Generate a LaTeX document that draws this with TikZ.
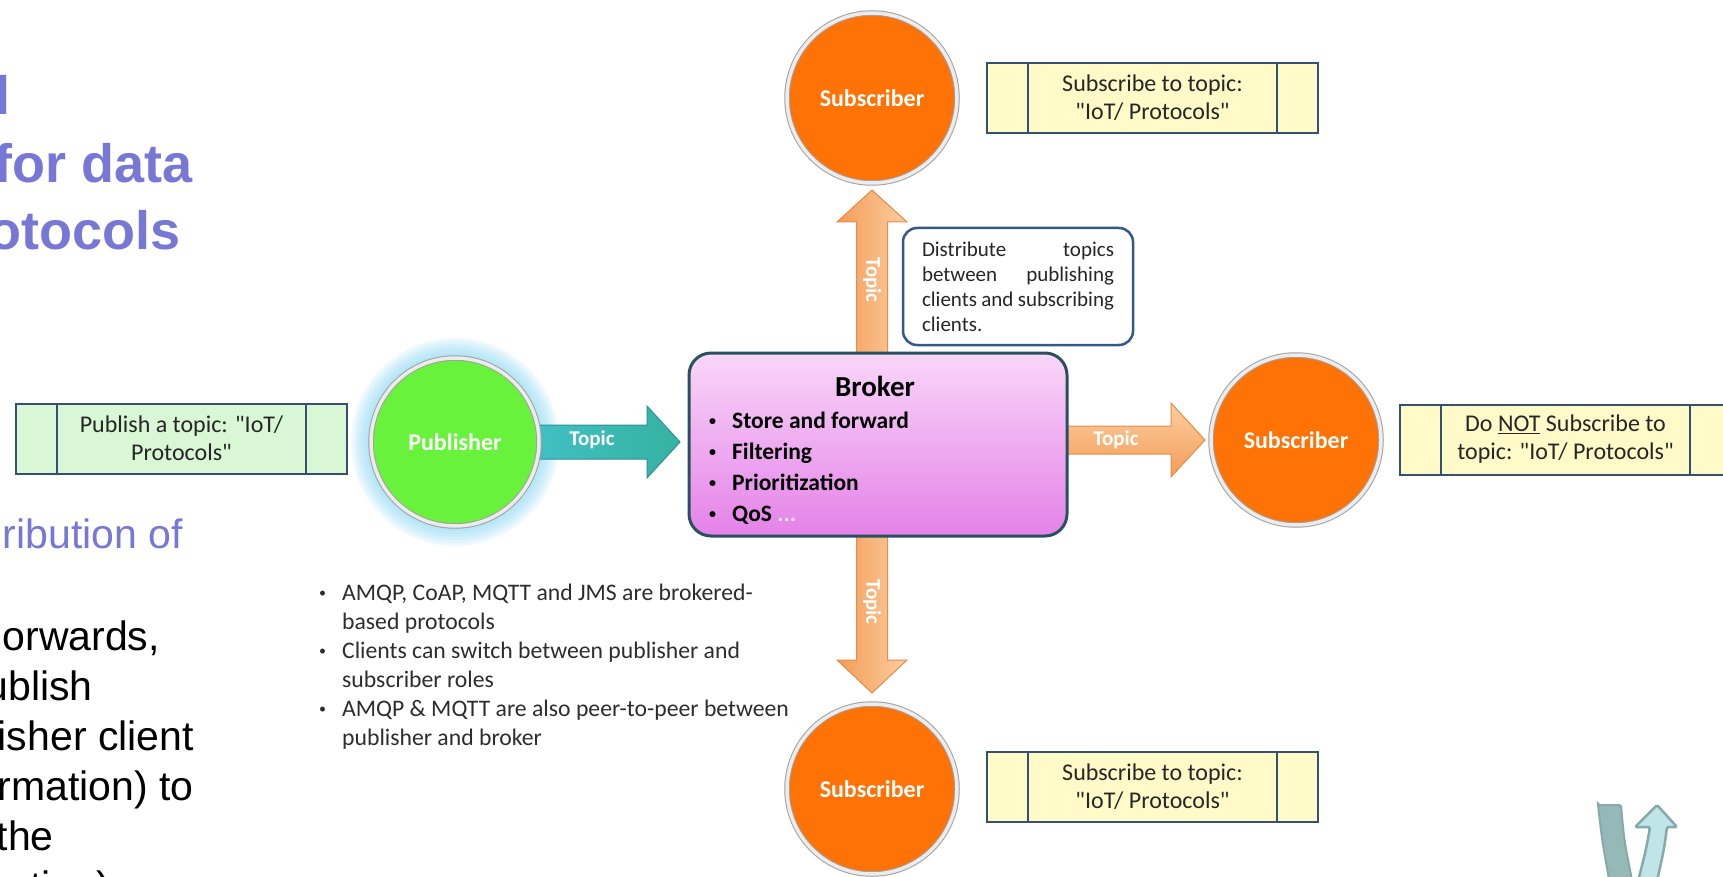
\documentclass[tikz,border=0pt]{standalone}
\usepackage{fontspec}
\setmainfont{Carlito}
\newfontfamily\slidefont{Liberation Sans}
\usetikzlibrary{calc}
\pgfdeclarelayer{background}
\pgfsetlayers{background,main}

\definecolor{titleblue}{RGB}{119,119,214}
\definecolor{pubgreen}{RGB}{104,242,60}
\definecolor{suborange}{RGB}{255,114,6}
\definecolor{glowblue}{RGB}{130,215,245}
\definecolor{ringdark}{RGB}{160,160,160}
\definecolor{ringlight}{RGB}{236,236,236}
\definecolor{tabgreen}{RGB}{217,247,212}
\definecolor{tabyellow}{RGB}{255,250,200}
\definecolor{tabedge}{RGB}{52,80,115}
\definecolor{brokeredge}{RGB}{40,80,95}
\definecolor{brokertop}{RGB}{249,214,249}
\definecolor{brokerbot}{RGB}{228,130,232}
\definecolor{dotpink}{RGB}{248,228,248}
\definecolor{noteedge}{RGB}{52,88,138}
\definecolor{listgray}{RGB}{45,45,45}
\definecolor{orangemain}{RGB}{243,156,88}
\definecolor{orangelight}{RGB}{252,206,160}
\definecolor{orangeedge}{RGB}{228,140,72}
\definecolor{tealA}{RGB}{70,200,215}
\definecolor{tealB}{RGB}{54,178,160}
\definecolor{tealedge}{RGB}{45,143,160}
\definecolor{iconbar}{RGB}{149,184,184}
\definecolor{iconarrow}{RGB}{191,229,232}
\definecolor{iconedge}{RGB}{137,168,170}

% straight double quote and a small list bullet
\newcommand\qt{\textquotedbl}
\newcommand\dotmark{\raisebox{2.2pt}{\fontsize{14}{14}\selectfont\textbullet}}

% block arrow: style, from, tip, shaft half width, head half width, head length
\newcommand\blockarrow[6]{%
  \coordinate (ba-h) at ($(#3)!#6!(#2)$);
  \path[#1] ($(#2)!#4!90:(#3)$) -- ($(ba-h)!#4!-90:(#2)$) -- ($(ba-h)!#5!-90:(#2)$)
    -- (#3) -- ($(ba-h)!#5!90:(#2)$) -- ($(ba-h)!#4!90:(#2)$) -- ($(#2)!#4!-90:(#3)$) -- cycle;
}

\begin{document}
\begin{tikzpicture}[x=1pt,y=-1pt,
  slidetitle/.style={anchor=base east, inner sep=0pt, text=titleblue, font=\slidefont\bfseries\fontsize{54}{60}\selectfont},
  slidesub/.style={anchor=base east, inner sep=0pt, text=titleblue, font=\slidefont\fontsize{41}{50}\selectfont},
  slidebody/.style={anchor=base east, inner sep=0pt, text=black, font=\slidefont\fontsize{41}{50}\selectfont},
  rolecircle/.style={circle, minimum size=170pt, inner sep=0pt, outer sep=0pt, draw=ringdark, line width=1pt, double=ringlight, double distance=3.5pt, text=white, font=\bfseries\fontsize{24}{28}\selectfont},
  pubnode/.style={rolecircle, fill=pubgreen, minimum size=168pt},
  subnode/.style={rolecircle, fill=suborange},
  brokerbox/.style={rectangle, rounded corners=22pt, minimum width=378pt, minimum height=183pt, outer sep=0pt, draw=brokeredge, line width=3pt, top color=brokertop, bottom color=brokerbot},
  notebox/.style={rectangle, rounded corners=14pt, minimum width=230pt, minimum height=117pt, draw=noteedge, line width=2.5pt, fill=white, inner sep=0pt, font=\fontsize{21}{25}\selectfont, text=black!85},
  tabbox/.style={rectangle, draw=tabedge, line width=2pt, minimum width=331pt, minimum height=70pt, inner sep=0pt, align=center, font=\fontsize{24}{28}\selectfont, text=black!85,
    path picture={\draw[tabedge, line width=2pt]
      ([xshift=41pt]path picture bounding box.north west) -- ([xshift=41pt]path picture bounding box.south west)
      ([xshift=-41pt]path picture bounding box.north east) -- ([xshift=-41pt]path picture bounding box.south east);}},
  topiclabel/.style={text=white, inner sep=0pt, font=\bfseries\fontsize{21}{24}\selectfont},
  orangeH/.style={top color=orangelight, bottom color=orangemain, draw=orangeedge, line width=1pt},
  orangeV/.style={left color=orangemain, right color=orangelight, draw=orangeedge, line width=1pt},
  tealarrow/.style={left color=tealA, right color=tealB, draw=tealedge, line width=1pt}
]
\useasboundingbox (0,0) rectangle (1723,877);
\clip (0,0) rectangle (1723,877);

% slide text on the left
\node[slidetitle] (t1) at (11,115) {l};
\node[slidetitle] (t2) at (193,183) {for data};
\node[slidetitle] (t3) at (181,250) {otocols};
\node[slidesub] (s1) at (183,548) {ribution of};
\node[slidebody] (b1) at (160,650) {orwards,};
\node[slidebody] (b2) at (93,700) {ublish};
\node[slidebody] (b3) at (194,750) {isher client};
\node[slidebody] (b4) at (194,800) {rmation) to};
\node[slidebody] (b5) at (54,850) {the};
\node[slidebody] (b6) at (110,900) {ation)};

% clients and broker
\node[pubnode] (pub) at (455,442) {Publisher};
\node[subnode] (stop) at (872,98) {Subscriber};
\node[subnode] (sright) at (1296,440) {Subscriber};
\node[subnode] (sbot) at (872,789) {Subscriber};
\node[brokerbox] (broker) at (878,444.5) {};
\node[font=\bfseries\fontsize{29}{34}\selectfont] (brokertitle) at (875,386) {Broker};
\node[anchor=base west, inner sep=0pt, font=\bfseries\fontsize{23.5}{31}\selectfont] (brokerlist) at (709,428)
  {\begin{tabular}[t]{@{}l@{\hspace{16pt}}l@{}}
   \dotmark & Store and forward\\
   \dotmark & Filtering\\
   \dotmark & Prioritization\\
   \dotmark & QoS \textcolor{dotpink}{...}
   \end{tabular}};

% topic notes
\node[tabbox, fill=tabgreen] (pubnote) at (181.5,438.5) {Publish a topic: \qt IoT/\\Protocols\qt};
\node[tabbox, fill=tabyellow] (topnote) at (1152.5,98) {Subscribe to topic:\\\qt IoT/ Protocols\qt};
\node[tabbox, fill=tabyellow] (rightnote) at (1565.5,439.5) {Do \underline{NOT} Subscribe to\\topic: \qt IoT/ Protocols\qt};
\node[tabbox, fill=tabyellow] (botnote) at (1152.5,787) {Subscribe to topic:\\\qt IoT/ Protocols\qt};

\node[notebox] (distrib) at (1018,286.5) {\parbox{192pt}{%
  \makebox[192pt][s]{Distribute topics}\\
  \makebox[192pt][s]{between publishing}\\
  \makebox[192pt][s]{clients and subscribing}\\
  clients.}};

\node[anchor=base west, inner sep=0pt, text=listgray, font=\fontsize{23.7}{29}\selectfont] (roles) at (319,600)
  {\begin{tabular}[t]{@{}l@{\hspace{16pt}}l@{}}
   \dotmark & AMQP, CoAP, MQTT and JMS are brokered-\\
   & based protocols\\
   \dotmark & Clients can switch between publisher and\\
   & subscriber roles\\
   \dotmark & AMQP \& MQTT are also peer-to-peer between\\
   & publisher and broker
   \end{tabular}};

% arrow end points
\coordinate (pubtip) at ($(pub.center -| broker.west)+(-9,0)$);
\coordinate (rstart) at (broker.center |- sright.center);
\coordinate (rtip) at ($(sright.west)+(-6,0)$);
\coordinate (ustart) at (stop.center |- broker.center);
\coordinate (utip) at ($(stop.south)+(0,7)$);
\coordinate (dstart) at (sbot.center |- broker.center);
\coordinate (dtip) at ($(sbot.north)+(0,-11)$);

\begin{pgfonlayer}{background}
  \fill[white] (0,0) rectangle (1723,877);
  \foreach \r in {104,101,...,86} \fill[glowblue, opacity=0.13] (pub.center) circle[radius=\r*1pt];
  \blockarrow{tealarrow}{pub.center}{pubtip}{17pt}{36pt}{33pt}
  \blockarrow{orangeH}{rstart}{rtip}{14pt}{37pt}{34pt}
  \blockarrow{orangeV}{ustart}{utip}{15.5pt}{35pt}{32pt}
  \blockarrow{orangeV}{dstart}{dtip}{15.5pt}{35pt}{33pt}
\end{pgfonlayer}

\node[topiclabel] (lab1) at (592,440) {Topic};
\node[topiclabel] (lab2) at (1116,440) {Topic};
\node[topiclabel, rotate=-90] (lab3) at (872,280) {Topic};
\node[topiclabel, rotate=-90] (lab4) at (872,602) {Topic};

% return icon in the corner
\draw[fill=iconbar, draw=iconedge, line width=2pt, rounded corners=1.5pt]
  (1598,805) -- (1621,805) .. controls (1624,840) .. (1633,885) -- (1610,885) .. controls (1602,840) .. cycle;
\draw[fill=iconarrow, draw=iconedge, line width=2.5pt, rounded corners=1.5pt]
  (1657,805) -- (1677,827) -- (1667,827) .. controls (1664,850) .. (1656,885) -- (1637,885)
  .. controls (1646,850) .. (1650,827) -- (1635,827) -- cycle;
\end{tikzpicture}
\end{document}
